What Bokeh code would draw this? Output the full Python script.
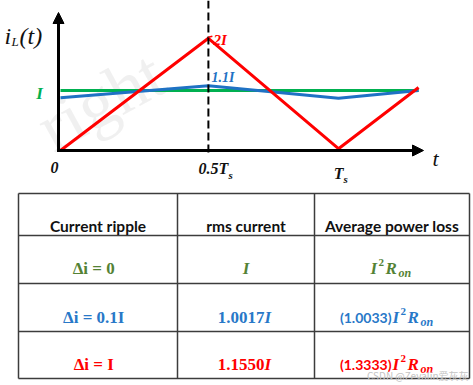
from bokeh.plotting import figure
from bokeh.layouts import column
from bokeh.models import Range1d, Arrow, NormalHead
from bokeh.core.properties import value
from bokeh.embed import file_html
from bokeh.resources import INLINE

# ---------------- data ----------------
t_red = [0.0, 0.532, 1.0, 1.288]
i_red = [0.0, 1.87, 0.03, 1.05]
t_blue = [0.0, 0.532, 1.0, 1.288]
i_blue = [0.88, 1.08, 0.87, 1.0]
t_green = [0.0, 1.288]
i_green = [1.0, 1.0]
t_half = 0.532
tick_t = [0.0, 0.532, 1.0]
tick_main = ["0", "0.5T", "T"]
tick_sub = ["", "s", "s"]

header = ["Current ripple", "rms current", "Average power loss"]
ripple = ["\u0394i  =  0", "\u0394i  =  0.1I", "\u0394i  =  I"]
rms_num = ["", "1.0017", "1.1550"]
loss_coef = ["", "(1.0033)", "(1.3333)"]

# ---------------- styles ----------------
RED = "#ff0000"
BLUE = "#1f72c4"
GREEN = "#00b050"
ROW_COLORS = ["#548235", "#2878c8", "#ff0000"]
SERIF = value("Liberation Serif")
SANS = value("Lato")

XS = 278.0   # px per Ts
X0 = 60.0    # reference x of t = 0
YS = 60.0    # px per I
Y0 = 150.0   # reference y of i = 0


def tx(X):
    return (X - X0) / XS


def vy(Y):
    return (Y0 - Y) / YS


p = figure(width=473, height=190, output_backend="svg", toolbar_location=None,
           x_range=Range1d(tx(0), tx(473)), y_range=Range1d(vy(190), vy(0)),
           min_border=0, background_fill_color="white", border_fill_color="white")
p.axis.visible = False
p.grid.visible = False
p.outline_line_color = None

# watermark
p.text(x=[tx(42)], y=[vy(132)], text=["right"], angle=0.5, text_font=SERIF,
       text_font_size="70px", text_color="#ececec", text_alpha=0.8,
       text_baseline="alphabetic")

# series
p.line(t_green, i_green, line_color=GREEN, line_width=3)
p.line(t_blue, i_blue, line_color=BLUE, line_width=3)
p.line(t_red, i_red, line_color=RED, line_width=3)

# axes with arrows
p.add_layout(Arrow(end=NormalHead(size=11, fill_color="black", line_color="black"),
                   x_start=tx(58), y_start=vy(151.5), x_end=tx(58), y_end=vy(12),
                   line_color="black", line_width=3))
p.add_layout(Arrow(end=NormalHead(size=11, fill_color="black", line_color="black"),
                   x_start=tx(56.5), y_start=0, x_end=tx(423), y_end=0,
                   line_color="black", line_width=3))

# dashed marker at half period
p.segment(x0=[t_half], y0=[vy(0)], x1=[t_half], y1=[vy(156)], line_color="black",
          line_width=2, line_dash="8 4")

# axis titles
p.text(x=[tx(4)], y=[vy(35)], text=["i"], text_font=SERIF, text_font_style="italic",
       text_font_size="24px", text_color="#111111", text_baseline="alphabetic")
p.text(x=[tx(11)], y=[vy(41)], text=["L"], text_font=SERIF, text_font_style="italic",
       text_font_size="13px", text_color="#111111", text_baseline="alphabetic")
p.text(x=[tx(19)], y=[vy(35)], text=["(t)"], text_font=SERIF, text_font_style="italic",
       text_font_size="24px", text_color="#111111", text_baseline="alphabetic")
p.text(x=[tx(432)], y=[vy(158)], text=["t"], text_font=SERIF, text_font_style="italic",
       text_font_size="22px", text_color="#111111", text_baseline="alphabetic")

# tick labels
main_dx = [-6, 20, 5]
main_align = ["center", "right", "right"]
main_base = [167, 168, 173]
sub_base = [172, 174, 178]
for tt, m, s, dx, al, mb, sb in zip(tick_t, tick_main, tick_sub, main_dx, main_align,
                                    main_base, sub_base):
    p.text(x=[tt + dx / XS], y=[vy(mb)], text=[m], text_font=SERIF,
           text_font_style="bold italic", text_font_size="16px", text_color="#111111",
           text_align=al, text_baseline="alphabetic")
    if s:
        p.text(x=[tt + dx / XS], y=[vy(sb)], text=[s], text_font=SERIF,
               text_font_style="bold italic", text_font_size="11px",
               text_color="#111111", text_align="left", text_baseline="alphabetic")

# level labels
p.text(x=[tx(39)], y=[i_green[0] - 3 / YS], text=["I"], text_font=SERIF,
       text_font_style="bold italic", text_font_size="17px", text_color=GREEN,
       text_align="center", text_baseline="alphabetic")
p.segment(x0=[t_red[1]], y0=[i_red[1] + 1 / YS], x1=[t_red[1] + 4 / XS],
          y1=[i_red[1] + 2 / YS], line_color=RED, line_width=1.5)
p.text(x=[t_red[1] + 5 / XS], y=[i_red[1] - 2 / YS], text=["2I"], text_font=SERIF,
       text_font_style="bold italic", text_font_size="15px", text_color=RED,
       text_align="left", text_baseline="alphabetic")
p.text(x=[t_blue[1] + 3 / XS], y=[i_blue[1] + 8 / YS], text=["1.1I"], text_font=SERIF,
       text_font_style="bold italic", text_font_size="14px", text_color=BLUE,
       text_align="left", text_baseline="alphabetic")

# ---------------- table ----------------
q = figure(width=473, height=195, output_backend="svg", toolbar_location=None,
           x_range=Range1d(0, 473), y_range=Range1d(385, 190), min_border=0,
           background_fill_color="white", border_fill_color="white")
q.axis.visible = False
q.grid.visible = False
q.outline_line_color = None

col_edges = [18, 177, 314, 469]
row_edges = [193, 235, 283, 331, 378]
BORDER = "#3c3c3c"
q.segment(x0=[col_edges[0]] * len(row_edges), y0=row_edges,
          x1=[col_edges[-1]] * len(row_edges), y1=row_edges,
          line_color=BORDER, line_width=1.5)
q.segment(x0=col_edges, y0=[row_edges[0]] * len(col_edges),
          x1=col_edges, y1=[row_edges[-1]] * len(col_edges),
          line_color=BORDER, line_width=1.5)

centers = [(a + b) / 2 for a, b in zip(col_edges[:-1], col_edges[1:])]
q.text(x=centers, y=[225] * 3, text=header, text_font=SANS, text_font_style="bold",
       text_font_size="15.5px", text_color="#111111", text_align="center",
       text_baseline="alphabetic")

row_base = [268, 317, 364]
for k in range(3):
    c = ROW_COLORS[k]
    b = row_base[k]
    # ripple column
    q.text(x=[centers[0]], y=[b], text=[ripple[k]], text_font=SERIF,
           text_font_style="bold", text_font_size="17px", text_color=c,
           text_align="center", text_baseline="alphabetic")
    # rms column
    if rms_num[k]:
        q.text(x=[264], y=[b], text=[rms_num[k]], text_font=SERIF,
               text_font_style="bold", text_font_size="17px", text_color=c,
               text_align="right", text_baseline="alphabetic")
        q.text(x=[264], y=[b], text=["I"], text_font=SERIF,
               text_font_style="bold italic", text_font_size="17px", text_color=c,
               text_align="left", text_baseline="alphabetic")
    else:
        q.text(x=[centers[1]], y=[b], text=["I"], text_font=SERIF,
               text_font_style="bold italic", text_font_size="17px", text_color=c,
               text_align="center", text_baseline="alphabetic")
    # power loss column
    if loss_coef[k]:
        xa = 391
        q.text(x=[xa], y=[b], text=[loss_coef[k]], text_font=SANS,
               text_font_style="bold", text_font_size="14px", text_color=c,
               text_align="right", text_baseline="alphabetic")
    else:
        xa = 369
    q.text(x=[xa + 1], y=[b], text=["I"], text_font=SERIF,
           text_font_style="bold italic", text_font_size="17px", text_color=c,
           text_align="left", text_baseline="alphabetic")
    q.text(x=[xa + 9], y=[b - 6], text=["2"], text_font=SERIF,
           text_font_style="bold", text_font_size="11px", text_color=c,
           text_align="left", text_baseline="alphabetic")
    q.text(x=[xa + 16], y=[b], text=["R"], text_font=SERIF,
           text_font_style="bold italic", text_font_size="17px", text_color=c,
           text_align="left", text_baseline="alphabetic")
    q.text(x=[xa + 29], y=[b + 4], text=["on"], text_font=SERIF,
           text_font_style="bold italic", text_font_size="12px", text_color=c,
           text_align="left", text_baseline="alphabetic")

q.text(x=[468], y=[375], text=["CSDN @Zevalin\u7231\u7070\u7070"],
       text_font=value("Noto Sans CJK SC"), text_font_size="10px", text_color="#c4c4c4",
       text_align="right", text_baseline="alphabetic")

layout = column(p, q, spacing=0)
open("out.html", "w").write(file_html(layout, INLINE))
